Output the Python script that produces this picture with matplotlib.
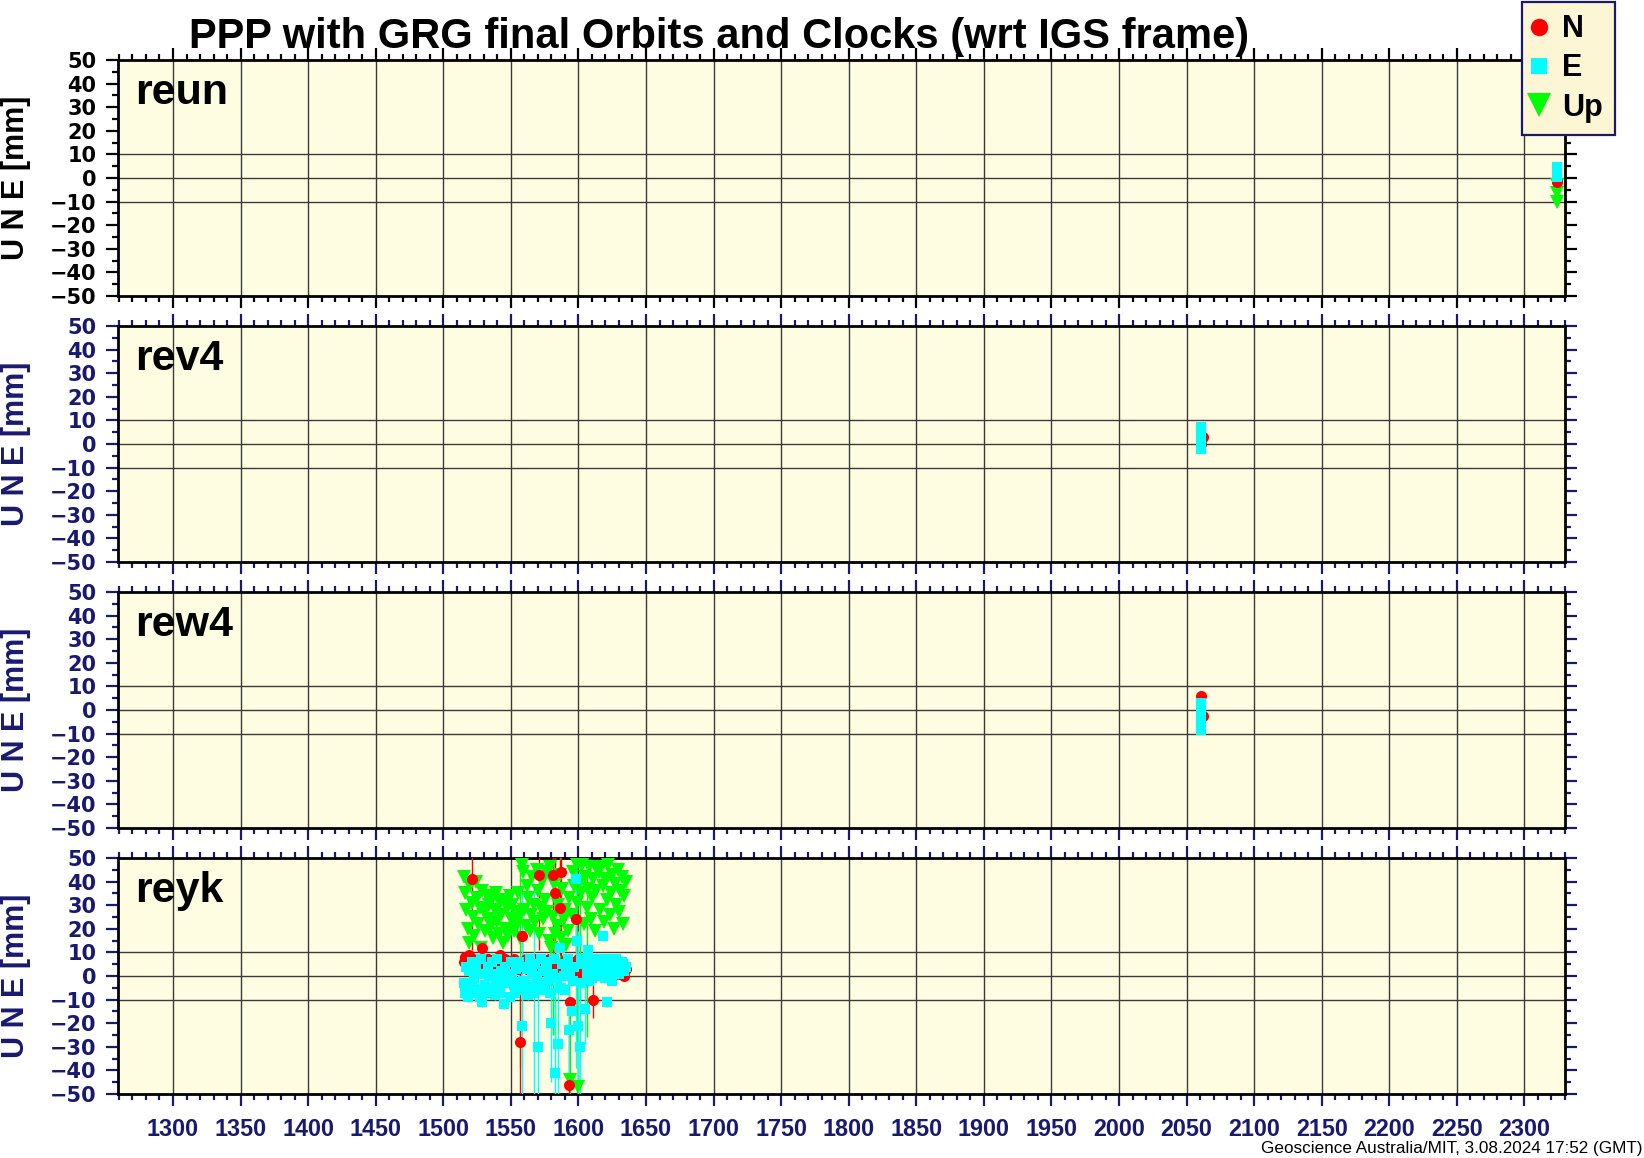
import numpy as np
import matplotlib.pyplot as plt
from matplotlib.lines import Line2D
from matplotlib.ticker import MultipleLocator

# ---------------- data (day number vs. N / E / Up offsets in mm) ----------------
stations = ['reun', 'rev4', 'rew4', 'reyk']

reun_n_x = [2324]
reun_n = [-1.5]
reun_n_sig = [1.5]
reun_e_x = [2324, 2324, 2324]
reun_e = [4.5, 2.5, 0.5]
reun_e_sig = [1.5, 1.5, 1.5]
reun_u_x = [2324, 2324, 2324]
reun_u = [-3, -6.5, -10]
reun_u_sig = [2, 2, 2]

rev4_n_x = [2061, 2062]
rev4_n = [0, 3]
rev4_n_sig = [1.5, 1.5]
rev4_e_x = [2061, 2061, 2061, 2061]
rev4_e = [7, 4, 1, -2]
rev4_e_sig = [1.5, 1.5, 1.5, 1.5]
rev4_u_x = []
rev4_u = []
rev4_u_sig = []

rew4_n_x = [2061, 2062]
rew4_n = [6, -2.5]
rew4_n_sig = [1.5, 1.5]
rew4_e_x = [2061, 2061, 2061, 2061, 2061]
rew4_e = [3, 0, -3, -6, -8.5]
rew4_e_sig = [1.5, 1.5, 1.5, 1.5, 1.5]
rew4_u_x = []
rew4_u = []
rew4_u_sig = []

# reyk: daily solutions, day 1515 .. 1635
reyk_days = np.arange(1515, 1636)
reyk_n = [6, 8, 4, 5, 9, 3, 41, 6, 4, 5, 7, 2, 4, 6, 12, 3, 5, 4, 7, 3,
          4, 6, 2, 5, 3, 7, 4, 9, 5, 3, 6, 7, 4, 2, 5, 6, 3, 7, 4, 5,
          3, 6, -28, 17, 4, 5, 7, 3, 6, 4, 2, 5, 7, 4, 6, 3, 43, 5, 7, 4,
          6, 3, 5, 7, 4, 2, 43, 6, 35, 4, 5, 29, 44, 3, 6, 4, 7, 1, -46, -11,
          5, 2, 6, 24, 4, 7, 3, 5, 1, 6, 4, 3, 5, 2, 4, 1, -10, 3, 5, 2,
          3, 4, 1, 5, 2, 4, 3, 1, 4, 2, 3, 5, 1, 3, 2, 4, 1, 3, 2, 0, 3]
reyk_e = [-3, -7, 4, -9, 2, -5, 6, -7, -2, 3, -6, 1, -9, 7, -11, 1, -4, -7, 4, 0,
          -5, 6, 1, -8, -3, 7, -4, -7, 2, -1, -12, 4, -3, 0, -9, 6, 1, -4, -7, 3,
          -3, 6, -4, -21, -2, -6, 4, 3, -8, 7, -4, 1, -7, 5, 0, -30, -3, 7, -6, 2,
          -4, 6, 3, -2, -7, -20, 1, 7, -41, -1, -29, 12, -5, 5, 0, -6, 3, 7, -23, 1,
          -15, -2, 4, 41, 15, -21, -30, 7, -3, 5, -14, 1, 11, -2, 7, -1, 4, 0, 6, 3,
          3, 7, 5, 17, 2, -1, -11, 4, 7, 3, -2, 6, 2, 7, 4, 1, 3, 6, 5, 2, 4]
reyk_u = [42, 35, 28, 20, 14, 38, 31, 25, 17, 40, 33, 22, 29, 12, 36, 27, 19, 34, 24, 30,
          21, 33, 16, 28, 35, 23, 18, 31, 26, 14, 32, 20, 29, 17, 34, 24, 30, 19, 27, 22,
          35, 25, 16, 47, 44, 28, 21, 38, 33, 19, 26, 42, 30, 23, 45, 36, 18, 29, 40, 24,
          32, 44, 27, 15, 46, 12, 25, 39, 18, 21, 30, 43, 16, 37, 24, 28, 13, 19, 33, -44,
          26, 44, 38, 48, 31, -47, 40, 35, 47, 22, 42, 29, 37, 46, 24, 33, 41, 19, 36, 45,
          44, 28, 46, 38, 23, 41, 32, 47, 26, 35, 43, 20, 39, 30, 45, 27, 36, 42, 22, 34, 40]
reyk_sig = 2.0  # typical formal error
# days with large formal errors
reyk_n_big_days = [1521, 1557, 1558, 1571, 1581, 1583, 1586, 1587, 1593, 1598, 1611]
reyk_n_big_sig = [30, 30, 12, 32, 33, 28, 20, 36, 40, 18, 8]
reyk_e_big_days = [1558, 1567, 1570, 1580, 1583, 1585, 1593, 1598, 1600, 1601, 1605]
reyk_e_big_sig = [60, 45, 30, 25, 45, 30, 25, 80, 40, 35, 15]
reyk_u_big_days = [1557, 1581, 1583, 1586, 1594, 1599, 1600, 1601, 1606]
reyk_u_big_sig = [55, 50, 45, 40, 35, 60, 30, 50, 55]


def sigmas(days, big_days, big_sig):
    s = np.full(len(days), reyk_sig)
    for d, v in zip(big_days, big_sig):
        s[list(days).index(d)] = v
    return s


data = {
    'reun': [(reun_u_x, reun_u, reun_u_sig), (reun_n_x, reun_n, reun_n_sig), (reun_e_x, reun_e, reun_e_sig)],
    'rev4': [(rev4_u_x, rev4_u, rev4_u_sig), (rev4_n_x, rev4_n, rev4_n_sig), (rev4_e_x, rev4_e, rev4_e_sig)],
    'rew4': [(rew4_u_x, rew4_u, rew4_u_sig), (rew4_n_x, rew4_n, rew4_n_sig), (rew4_e_x, rew4_e, rew4_e_sig)],
    'reyk': [(reyk_days, reyk_u, sigmas(reyk_days, reyk_u_big_days, reyk_u_big_sig)),
             (reyk_days, reyk_n, sigmas(reyk_days, reyk_n_big_days, reyk_n_big_sig)),
             (reyk_days, reyk_e, sigmas(reyk_days, reyk_e_big_days, reyk_e_big_sig))],
}

# plotting order: Up, N, E
styles = [dict(fmt='v', color='#00ff00', ms=10.5),
          dict(fmt='o', color='#ff0000', ms=8),
          dict(fmt='s', color='#00ffff', ms=7.3)]

navy = '#191970'
bg = '#fffde1'

#===============================   PLOT   =====================================
W, H = 1644, 1158
fig = plt.figure(figsize=(W / 100, H / 100), dpi=100)
plt.rcParams['font.family'] = 'Liberation Sans'

left, right = 118 / W, 1565 / W
tops = [60, 326, 592, 858]
ph = 236

for i, st in enumerate(stations):
    ax = fig.add_axes([left, 1 - (tops[i] + ph) / H, right - left, ph / H])
    ax.set_facecolor(bg)
    tc = 'black' if i == 0 else navy
    for (x, y, s), sty in zip(data[st], styles):
        if len(x) == 0:
            continue
        ax.errorbar(x, y, yerr=s, fmt=sty['fmt'], color=sty['color'], ms=sty['ms'],
                    mew=0, elinewidth=1, capsize=0, zorder=3)
    ax.set_xlim(1259.3, 2330)
    ax.set_ylim(-50, 50)
    ax.xaxis.set_major_locator(MultipleLocator(50))
    ax.xaxis.set_minor_locator(MultipleLocator(10))
    ax.yaxis.set_major_locator(MultipleLocator(10))
    ax.yaxis.set_minor_locator(MultipleLocator(5))
    ax.grid(axis='x', which='major', color='#3a3a3a', lw=1, zorder=1)
    for yl in (-10, 0, 10):
        ax.axhline(yl, color='#3a3a3a', lw=1, zorder=1)
    for sp in ax.spines.values():
        sp.set_linewidth(2)
        sp.set_color('black')
    ax.tick_params(axis='both', which='both', direction='out', top=True, right=True,
                   colors=tc, width=1.6)
    ax.tick_params(axis='x', which='major', length=8.6, pad=9)
    ax.tick_params(axis='x', which='minor', length=4.3)
    ax.tick_params(axis='y', which='major', length=8.4, pad=7)
    ax.tick_params(axis='y', which='minor', length=4.3)
    for lab in ax.get_yticklabels():
        lab.set_fontfamily('DejaVu Sans')
        lab.set_fontweight('bold')
        lab.set_fontsize(15)
        lab.set_color(tc)
    if i < 3:
        ax.tick_params(axis='x', labelbottom=False)
    else:
        for lab in ax.get_xticklabels():
            lab.set_fontweight('bold')
            lab.set_fontsize(16.8)
            lab.set_color(navy)
    ax.set_ylabel('U N E [mm]', fontsize=22, fontweight='bold', color=tc)
    ax.yaxis.set_label_coords(-0.06, 0.5)
    ax.text(0.0117, 0.814, st, transform=ax.transAxes, fontsize=31,
            fontweight='bold', va='baseline', zorder=5)

fig.text(719 / W, 1 - 37 / H, 'PPP with GRG final Orbits and Clocks (wrt IGS frame)',
         fontsize=30, fontweight='bold', ha='center', va='center')
fig.text(0.999, 1 - 1148 / H, 'Geoscience Australia/MIT, 3.08.2024 17:52 (GMT)',
         fontsize=12.3, ha='right', va='center')

handles = [Line2D([], [], ls='none', marker='o', color='#ff0000', ms=12.5, mew=0),
           Line2D([], [], ls='none', marker='s', color='#00ffff', ms=11, mew=0),
           Line2D([], [], ls='none', marker='v', color='#00ff00', ms=17, mew=0)]
leg = fig.legend(handles, ['N', 'E', 'Up'], loc='upper left',
                 bbox_to_anchor=(1522 / W, 1 - 2 / H), borderaxespad=0,
                 prop={'family': 'Liberation Sans', 'weight': 'bold', 'size': 22},
                 handlelength=0.3, handletextpad=0.62, borderpad=0.4,
                 labelspacing=0.3, fancybox=False, framealpha=1)
leg.get_frame().set_edgecolor(navy)
leg.get_frame().set_facecolor('#fcf6d4')
leg.get_frame().set_linewidth(1.6)

plt.savefig('out.png', dpi=100)
